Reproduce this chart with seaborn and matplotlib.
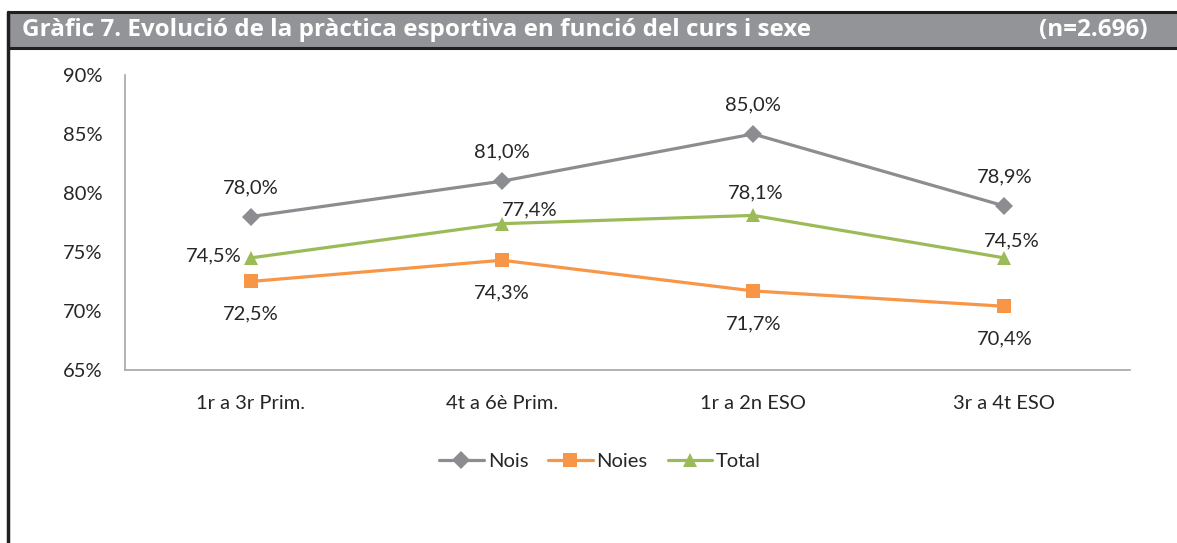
import pandas as pd
import seaborn as sns
import matplotlib.pyplot as plt
from matplotlib.patches import Rectangle
from matplotlib.lines import Line2D

# --- Data ---
cursos = ['1r a 3r Prim.', '4t a 6è Prim.', '1r a 2n ESO', '3r a 4t ESO']
nois = [78.0, 81.0, 85.0, 78.9]
noies = [72.5, 74.3, 71.7, 70.4]
total = [74.5, 77.4, 78.1, 74.5]
series_names = ['Nois', 'Noies', 'Total']
y_ticks = [65, 70, 75, 80, 85, 90]

title_text = 'Gràfic 7. Evolució de la pràctica esportiva en funció del curs i sexe'
n_text = '(n=2.696)'

colors = {'Nois': '#8C8D91', 'Noies': '#F79646', 'Total': '#9BBB59'}
markers = {'Nois': 'D', 'Noies': 's', 'Total': '^'}
text_color = '#262626'
axis_color = '#A6A6A6'
fs = 14.5

df = pd.DataFrame({'curs': cursos, 'Nois': nois, 'Noies': noies, 'Total': total})
long_df = df.melt(id_vars='curs', var_name='serie', value_name='valor')
long_df['pos'] = long_df['curs'].map({c: i for i, c in enumerate(cursos)})

sns.set_style('white')
plt.rcParams['font.family'] = ['Lato', 'DejaVu Sans']

fig = plt.figure(figsize=(11.77, 5.43), dpi=100)
ax = fig.add_axes([0.1062, 0.3186, 0.8539, 0.5433])

sns.lineplot(data=long_df, x='pos', y='valor', hue='serie', style='serie',
             hue_order=series_names, style_order=series_names,
             palette=colors, markers=markers, dashes=False,
             linewidth=2.3, markersize=9, markeredgewidth=0,
             legend=False, ax=ax)
# bigger markers for square/triangle
for line in ax.lines:
    if line.get_marker() in ('s', '^'):
        line.set_markersize(10.5)

# --- Axes styling ---
ax.set_xlim(-0.5, 3.5)
ax.set_ylim(65, 90)
ax.set_yticks(y_ticks)
ax.set_yticklabels([f'{v}%' for v in y_ticks], fontsize=fs, color=text_color)
ax.set_xticks(range(len(cursos)))
ax.set_xticklabels(cursos, fontsize=fs, color=text_color)
ax.set_xticks([-0.5, 0.5, 1.5, 2.5, 3.5], minor=True)
ax.tick_params(axis='x', which='major', length=0, pad=18)
ax.tick_params(axis='x', which='minor', length=6, color=axis_color, width=1.2, direction='out')
ax.tick_params(axis='y', length=6, color=axis_color, width=1.2, direction='out', pad=10)
ax.set_xlabel('')
ax.set_ylabel('')
for side in ['top', 'right']:
    ax.spines[side].set_visible(False)
for side in ['left', 'bottom']:
    ax.spines[side].set_color(axis_color)
    ax.spines[side].set_linewidth(1.2)

# --- Data labels ---
def fmt(v):
    return f'{v:.1f}%'.replace('.', ',')

for i, v in enumerate(nois):
    ax.annotate(fmt(v), (i, v), xytext=(0, 21), textcoords='offset points',
                ha='center', va='center', fontsize=fs, color=text_color)
for i, v in enumerate(noies):
    ax.annotate(fmt(v), (i, v), xytext=(0, -23.5), textcoords='offset points',
                ha='center', va='center', fontsize=fs, color=text_color)
total_offsets = [(-6.5, 1.5, 'right'), (20, 10, 'center'),
                 (1.5, 16.5, 'center'), (5, 12, 'center')]
for i, v in enumerate(total):
    dx, dy, ha = total_offsets[i]
    ax.annotate(fmt(v), (i, v), xytext=(dx, dy), textcoords='offset points',
                ha=ha, va='center', fontsize=fs, color=text_color)

# --- Legend ---
handles = [Line2D([0], [0], color=colors[s], marker=markers[s], linewidth=2.3,
                  markersize=9 if s == 'Nois' else 10.5, markeredgewidth=0)
           for s in series_names]
fig.legend(handles, series_names, loc='center', bbox_to_anchor=(0.51, 0.151),
           ncol=3, frameon=False, fontsize=fs, handlelength=2.2,
           handletextpad=0.2, columnspacing=1.0, labelcolor=text_color)

# --- Title bar and frame ---
W, H = 1177, 543
bar_top = 1 - 12 / H
bar_bot = 1 - 48 / H
left_x = 8 / W
fig.patches.append(Rectangle((left_x, bar_bot), 1 - left_x, bar_top - bar_bot,
                             transform=fig.transFigure, facecolor='#939497',
                             edgecolor='none', zorder=0))
fig.add_artist(Line2D([left_x, 1], [bar_top, bar_top], transform=fig.transFigure,
                      color='#231F20', linewidth=2.2))
fig.add_artist(Line2D([left_x, 1], [bar_bot, bar_bot], transform=fig.transFigure,
                      color='#231F20', linewidth=2.2))
fig.add_artist(Line2D([left_x, left_x], [0, bar_top], transform=fig.transFigure,
                      color='#231F20', linewidth=2.5))
mid = (bar_top + bar_bot) / 2
fig.text(22 / W, mid, title_text, ha='left', va='center', fontsize=17.5,
         fontweight='bold', color='white', family=['Open Sans', 'DejaVu Sans'])
fig.text(1148 / W, mid, n_text, ha='right', va='center', fontsize=17.5,
         fontweight='bold', color='white', family=['Open Sans', 'DejaVu Sans'])

fig.savefig('out.png', dpi=100)
